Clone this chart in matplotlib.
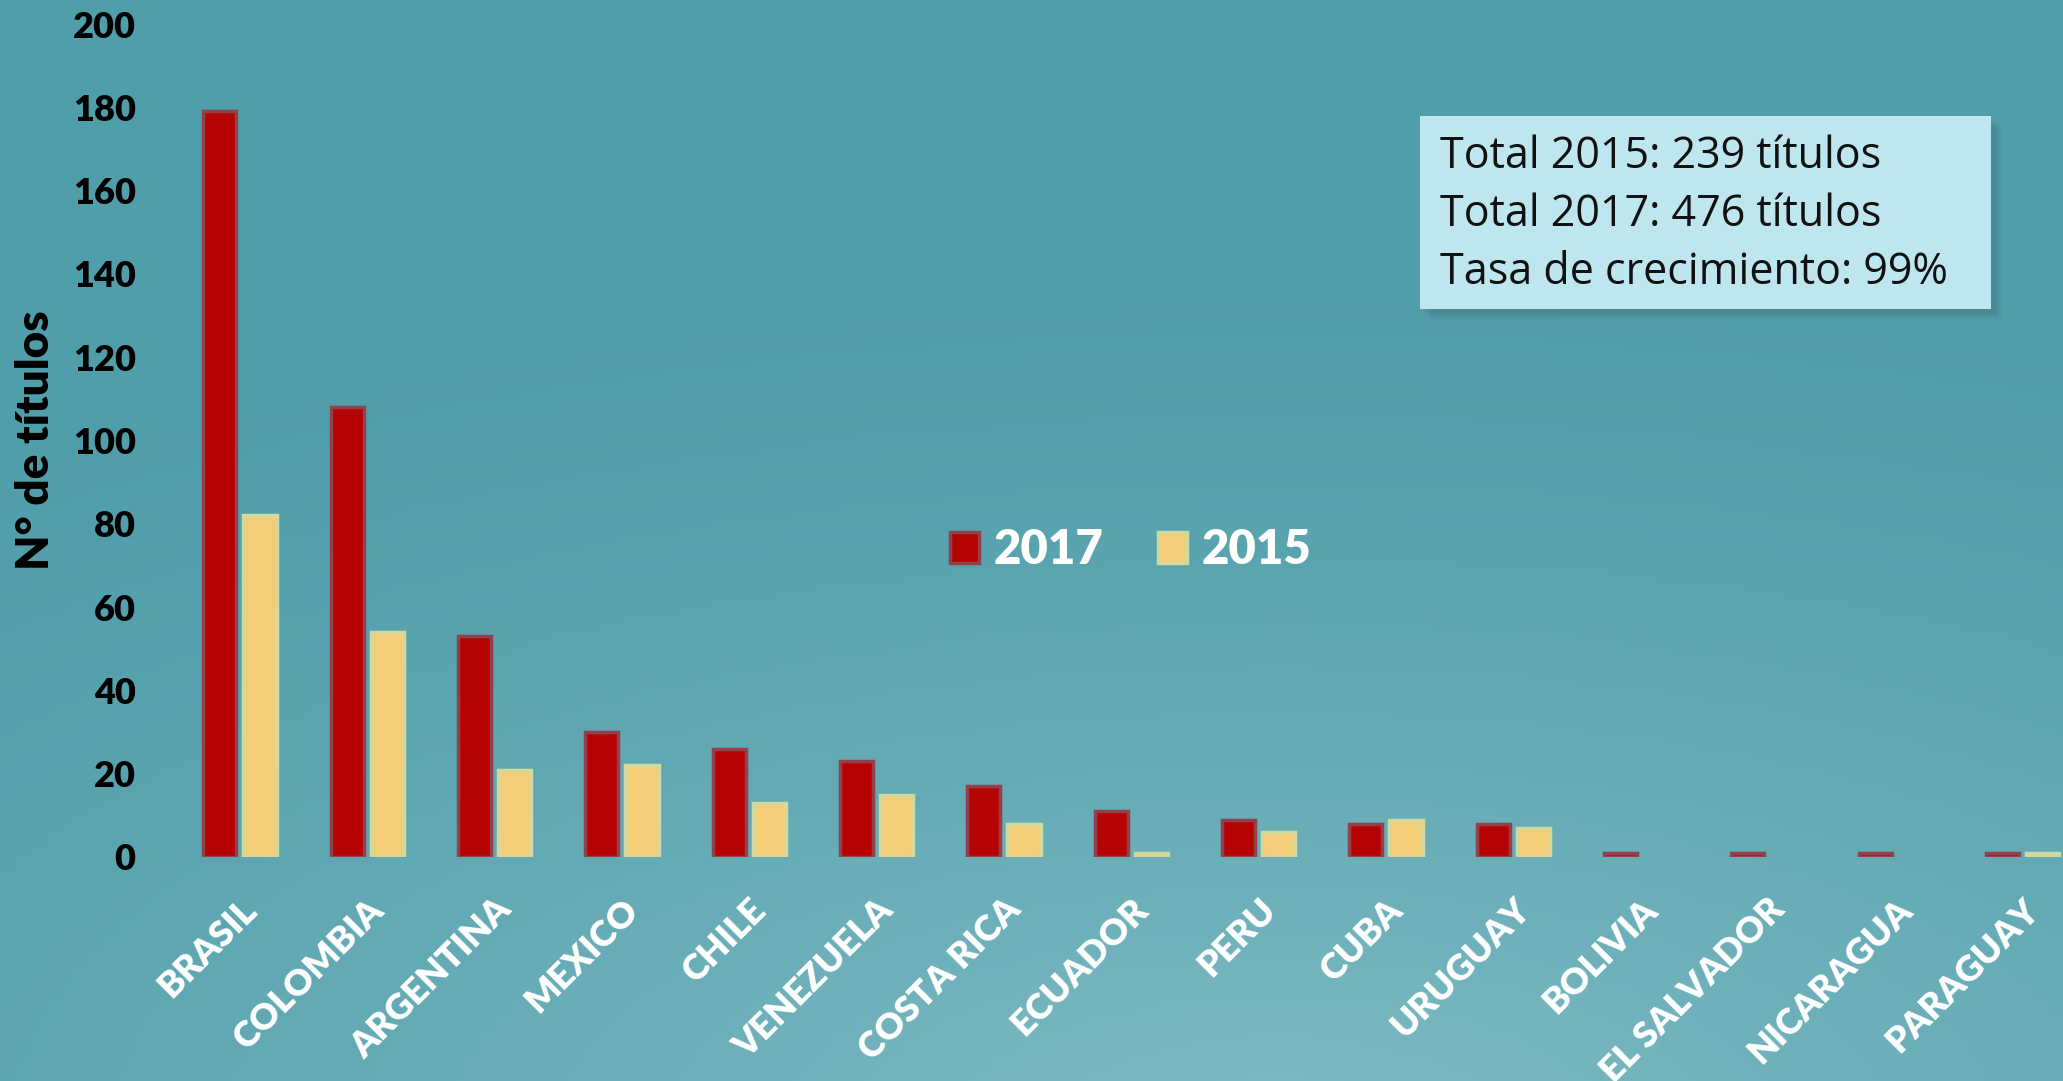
import numpy as np
import matplotlib
matplotlib.use("Agg")
import matplotlib.pyplot as plt
import matplotlib.transforms as mtransforms
from matplotlib.patches import Rectangle

countries = ["BRASIL", "COLOMBIA", "ARGENTINA", "MEXICO", "CHILE", "VENEZUELA",
             "COSTA RICA", "ECUADOR", "PERU", "CUBA", "URUGUAY", "BOLIVIA",
             "EL SALVADOR", "NICARAGUA", "PARAGUAY"]
v2017 = [179, 108, 53, 30, 26, 23, 17, 11, 9, 8, 8, 1, 1, 1, 1]
v2015 = [82, 54, 21, 22, 13, 15, 8, 1, 6, 9, 7, 0, 0, 0, 1]
yticks = [0, 20, 40, 60, 80, 100, 120, 140, 160, 180, 200]
box_lines = ["Total 2015: 239 títulos", "Total 2017: 476 títulos", "Tasa de crecimiento: 99%"]

plt.rcParams['font.family'] = ['Lato', 'DejaVu Sans']

W, H = 2063, 1081
fig = plt.figure(figsize=(W / 100, H / 100), dpi=100)

# background gradient
bg = fig.add_axes([0, 0, 1, 1], zorder=-10)
bg.axis("off")
yy, xx = np.mgrid[0:1:200j, 0:1:400j]
d = np.sqrt(((xx - 0.62) * 1.0) ** 2 + ((yy - 1.05) * 1.3) ** 2)
t = np.clip(1 - d / 1.1, 0, 1)
top = np.array([80, 158, 170]) / 255
low = np.array([128, 188, 196]) / 255
img = top[None, None, :] + (low - top)[None, None, :] * (t[..., None] ** 1.6)
bg.imshow(img, aspect="auto", extent=[0, 1, 0, 1], origin="upper")
bg.set_xlim(0, 1)
bg.set_ylim(0, 1)

# main axes
left = 176 / W
bottom = 1 - 857 / H
top_y = 1 - 24 / H
n = len(countries)
xs = np.arange(n)
ax = fig.add_axes([left, bottom, 1.0 - left, top_y - bottom])
ax.patch.set_alpha(0)
ax.set_xlim(-0.5, 14.32)
ax.set_ylim(0, 200)
for s in ax.spines.values():
    s.set_visible(False)

bw = 0.26
ec17 = ["#94404a" if v > 0 else "none" for v in v2017]
ec15 = ["#d2d99c" if v > 0 else "none" for v in v2015]
ax.bar(xs - 0.155, v2017, width=bw, color="#b50303", edgecolor=ec17,
       linewidth=2.5, label="2017", zorder=3)
ax.bar(xs + 0.16, v2015, width=bw, color="#f4cd78", edgecolor=ec15,
       linewidth=2.5, label="2015", zorder=3)

ax.set_yticks(yticks)
ax.set_yticklabels([str(v) for v in yticks], fontsize=26, fontweight="heavy", color="black")
ax.tick_params(axis="y", length=0, pad=29)
ax.set_xticks(xs)
ax.set_xticklabels(countries, rotation=45, ha="right", va="center",
                   rotation_mode="anchor", fontsize=26, fontweight="heavy", color="white")
ax.tick_params(axis="x", length=0, pad=34)
for lab in ax.get_xticklabels():
    lab.set_transform(lab.get_transform() + mtransforms.ScaledTranslation(0.12, 0, fig.dpi_scale_trans))

fig.text(36 / W, 1 - 440 / H, "N° de títulos", rotation=90, fontsize=33,
         fontweight="heavy", color="black", ha="center", va="center")

leg = fig.legend(loc="center", bbox_to_anchor=(0.548, 1 - 550 / H), ncol=2,
                 frameon=False, handlelength=0.62, handleheight=0.62,
                 handletextpad=0.3, columnspacing=1.15,
                 prop={"weight": "heavy", "size": 34})
for txt in leg.get_texts():
    txt.set_color("white")

# text box with soft shadow
bx0, by0, bx1, by1 = 1420 / W, 1 - 309 / H, 1991 / W, 1 - 116 / H
for i, a in enumerate([0.05, 0.06, 0.07, 0.08]):
    off = (4 + i * 2)
    fig.patches.append(Rectangle((bx0 + off / W, by0 - off / H), bx1 - bx0, by1 - by0,
                                 transform=fig.transFigure, facecolor="#2d4f55",
                                 alpha=a, edgecolor="none", zorder=1))
fig.patches.append(Rectangle((bx0, by0), bx1 - bx0, by1 - by0,
                             transform=fig.transFigure, facecolor="#bee6ee",
                             edgecolor="none", zorder=2))
for i, line in enumerate(box_lines):
    fig.text(1440 / W, 1 - (157 + i * 58) / H, line, fontsize=31, color="#111111",
             ha="left", va="center", zorder=3, family=["Open Sans", "DejaVu Sans"])

fig.savefig("out.png", dpi=100)
